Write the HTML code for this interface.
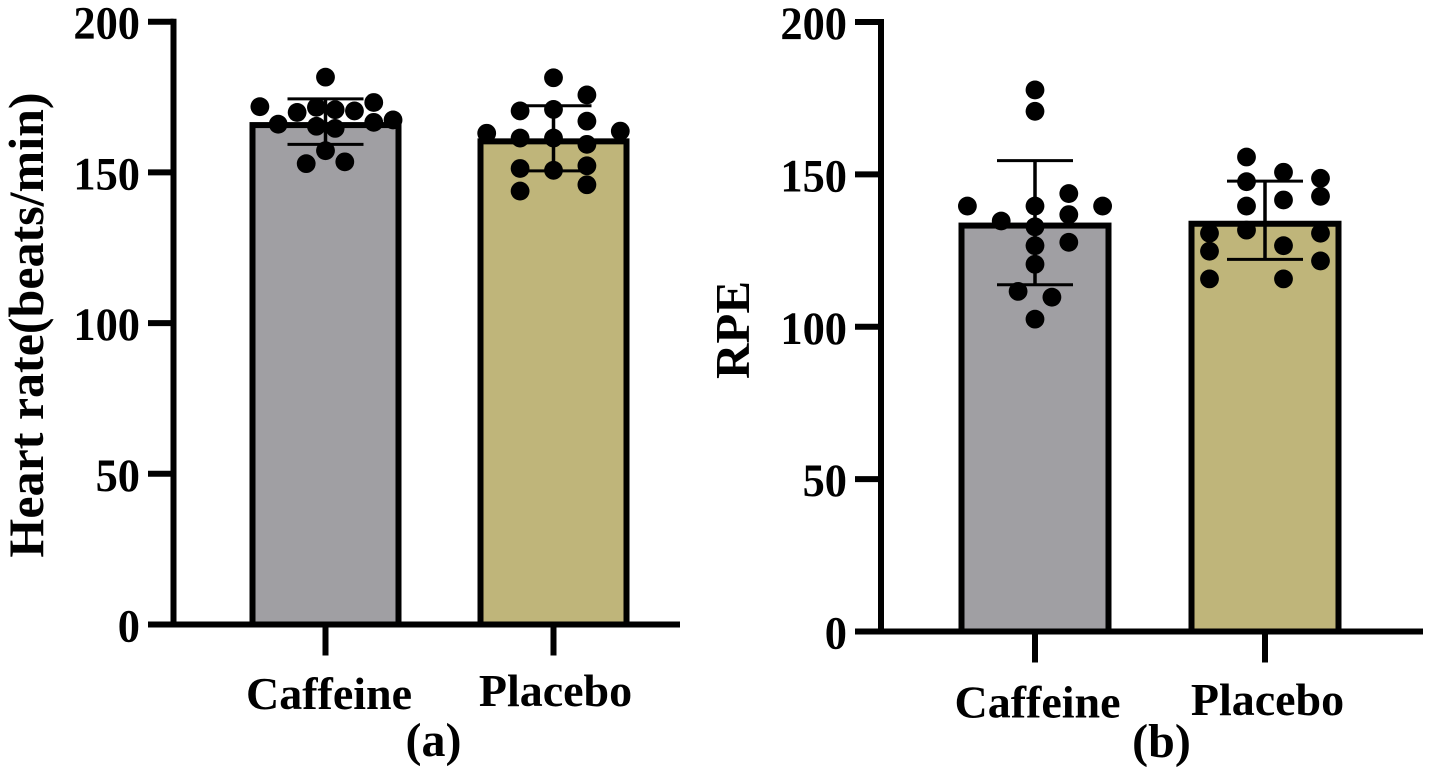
<!DOCTYPE html>
<html lang="en">
<head>
<meta charset="utf-8">
<title>Heart rate and RPE: Caffeine vs Placebo</title>
<style>
  html, body { margin: 0; padding: 0; background: #fff; }
  svg { display: block; }
  text { font-family: "Liberation Serif", serif; font-weight: bold; fill: #000; }
</style>
</head>
<body>
<svg id="figure" xmlns="http://www.w3.org/2000/svg" width="1429" height="774" viewBox="0 0 1429 774">
  <rect x="0" y="0" width="1429" height="774" fill="#fff"/>
  <g id="panel-a"></g>
  <g id="panel-b"></g>
  <text transform="translate(43,325) rotate(-90)" text-anchor="middle" font-size="50">Heart rate(beats/min)</text>
  <text transform="translate(749,330) rotate(-90)" text-anchor="middle" font-size="49">RPE</text>
  <text x="433.5" y="756" text-anchor="middle" font-size="48">(a)</text>
  <text x="1161.5" y="757" text-anchor="middle" font-size="48">(b)</text>
</svg>
<script>
const categories = ['Caffeine', 'Placebo'];
const yTicks = [0, 50, 100, 150, 200];

const heartMeans = [165.7, 160.3];
const heartSdTop = [174.4, 172.1];
const heartSdBottom = [159.3, 150.5];
const heartCaffeineValues = [181.6, 171.8, 166, 169.9, 171.6, 165.3, 170.8, 164.6, 170.4, 173.2, 166.6, 167.4, 157.2, 152.9, 153.5];
const heartCaffeineSlots = [0, -3.4, -2.45, -1.47, -0.47, -0.47, 0.5, 0.5, 1.5, 2.5, 2.5, 3.5, 0, -1, 1];
const heartPlaceboValues = [181.4, 175.7, 170.4, 170.9, 167, 163, 161.4, 161.4, 159.3, 163.7, 151.3, 150.7, 152.2, 145.9, 143.8];
const heartPlaceboSlots = [0, 1, -1, 0, 1, -2, -1, 0, 1, 2, -1, 0, 1, 1, -1];

const rpeMeans = [133.2, 133.8];
const rpeSdTop = [154.5, 147.8];
const rpeSdBottom = [113.8, 122.1];
const rpeCaffeineValues = [177.7, 170.7, 139.6, 134.7, 139.6, 132.8, 126.6, 120.5, 143.7, 136.8, 127.7, 139.6, 111.6, 109.7, 102.5];
const rpeCaffeineSlots = [0, 0, -2, -1, 0, 0, 0, 0, 1, 1, 1, 2, -0.5, 0.5, 0];
const rpePlaceboValues = [155.7, 147.6, 139.6, 131.7, 150.7, 141.6, 126.6, 115.7, 130.7, 124.8, 115.7, 148.7, 142.8, 130.7, 121.6];
const rpePlaceboSlots = [-0.5, -0.5, -0.5, -0.5, 0.5, 0.5, 0.5, 0.5, -1.5, -1.5, -1.5, 1.5, 1.5, 1.5, 1.5];

const NS = 'http://www.w3.org/2000/svg';
const fills = ['#a09fa3', '#bfb57a'];

function make(parent, tag, props) {
  const el = document.createElementNS(NS, tag);
  for (const k in props) el.setAttribute(k, props[k]);
  parent.appendChild(el);
  return el;
}

function drawPanel(cfg) {
  const g = cfg.group;
  const y = v => cfg.y0 - (v / 200) * (cfg.y0 - cfg.y200);
  const x = i => cfg.centers[i];

  cfg.means.forEach((m, i) => {
    const bar = make(g, 'rect', {
      x: x(i) - cfg.barWidth / 2, y: y(m),
      width: cfg.barWidth, height: y(0) - y(m),
      fill: fills[i], stroke: '#000', 'stroke-width': 6
    });
    
    
  });

  const yAxis = make(g, 'line', {
    x1: cfg.axisX, x2: cfg.axisX, y1: y(200) - 3, y2: y(0) + 3,
    stroke: '#000', 'stroke-width': 6
  });
  
  

  const xAxis = make(g, 'line', {
    x1: cfg.axisLeft, x2: cfg.axisRight, y1: y(0), y2: y(0),
    stroke: '#000', 'stroke-width': 6
  });
  
  

  yTicks.forEach(t => {
    const tick = make(g, 'line', {
      x1: cfg.axisLeft, x2: cfg.axisX, y1: y(t), y2: y(t),
      stroke: '#000', 'stroke-width': 6
    });
    
    
    const digits = String(t).length;
    const label = make(g, 'text', {
      x: cfg.tickLabelX, y: y(t) + 17, 'text-anchor': 'end', 'font-size': 47,
      textLength: digits * 22.2, lengthAdjust: 'spacingAndGlyphs'
    });
    label.textContent = String(t);
    
    
  });

  categories.forEach((c, i) => {
    const tick = make(g, 'line', {
      x1: x(i), x2: x(i), y1: y(0), y2: y(0) + 31,
      stroke: '#000', 'stroke-width': 6
    });
    
    
    const label = make(g, 'text', {
      x: cfg.labelX[i], y: cfg.labelY[i], 'text-anchor': 'middle', 'font-size': 46
    });
    label.textContent = c;
    
    
  });

  cfg.means.forEach((m, i) => {
    const name = categories[i].toLowerCase();
    const stem = make(g, 'line', {
      x1: x(i), x2: x(i), y1: y(cfg.sdTop[i]), y2: y(cfg.sdBottom[i]),
      stroke: '#000', 'stroke-width': 3.5
    });
    
    
    const capTop = make(g, 'line', {
      x1: x(i) - 38, x2: x(i) + 38, y1: y(cfg.sdTop[i]), y2: y(cfg.sdTop[i]),
      stroke: '#000', 'stroke-width': 3
    });
    
    
    const capBottom = make(g, 'line', {
      x1: x(i) - 38, x2: x(i) + 38, y1: y(cfg.sdBottom[i]), y2: y(cfg.sdBottom[i]),
      stroke: '#000', 'stroke-width': 3
    });
    
    

    cfg.values[i].forEach((v, j) => {
      const dot = make(g, 'circle', {
        cx: x(i) + cfg.slots[i][j] * cfg.slotStep[i], cy: y(v), r: 9.4, fill: '#000'
      });
      
      
    });
  });
}

drawPanel({
  group: document.getElementById('panel-a'),
  y0: 624.5, y200: 21.7,
  axisX: 173.5, axisLeft: 148, axisRight: 680,
  tickLabelX: 140,
  centers: [325.5, 553.5], barWidth: 146,
  labelX: [329, 555.5], labelY: [709, 706],
  slotStep: [19.3, 33.4],
  means: heartMeans, sdTop: heartSdTop, sdBottom: heartSdBottom,
  values: [heartCaffeineValues, heartPlaceboValues],
  slots: [heartCaffeineSlots, heartPlaceboSlots]
});

drawPanel({
  group: document.getElementById('panel-b'),
  y0: 631.5, y200: 22,
  axisX: 881, axisLeft: 855, axisRight: 1423,
  tickLabelX: 847,
  centers: [1035, 1265], barWidth: 147,
  labelX: [1037.5, 1267.5], labelY: [717.5, 715],
  slotStep: [33.8, 37],
  means: rpeMeans, sdTop: rpeSdTop, sdBottom: rpeSdBottom,
  values: [rpeCaffeineValues, rpePlaceboValues],
  slots: [rpeCaffeineSlots, rpePlaceboSlots]
});
</script>
</body>
</html>
